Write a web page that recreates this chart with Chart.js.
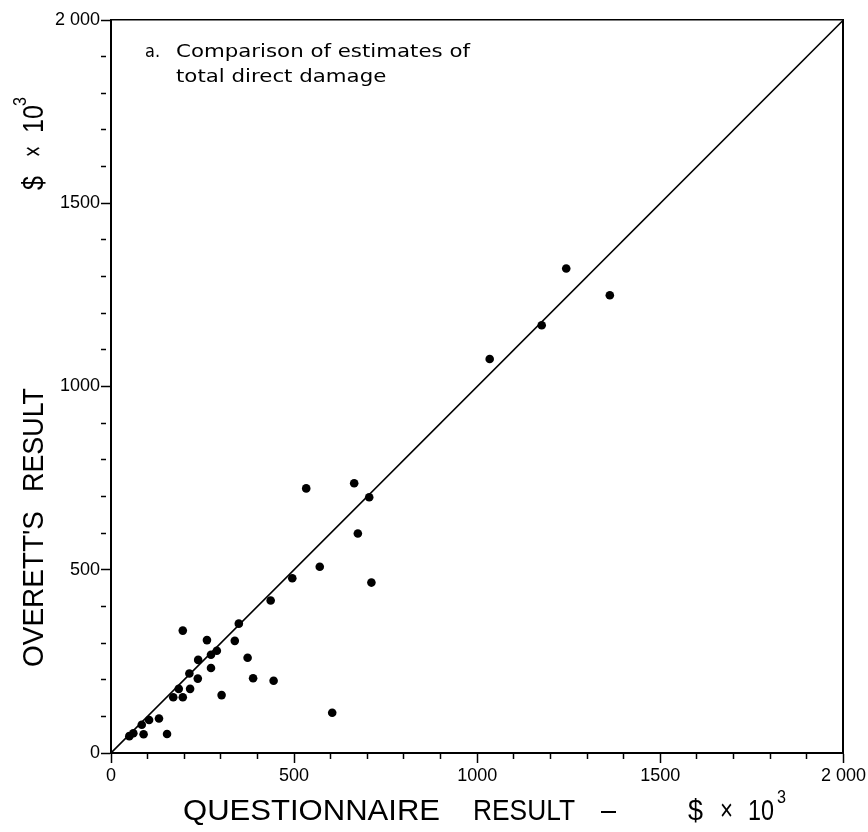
<html>
  <head>
    <script src="https://cdn.jsdelivr.net/npm/chart.js@4"></script>
    <style>
      body{ margin: 0; background: #fff; }
    </style>
  </head>
  <body>
    <canvas id="chart" width="868" height="832"></canvas>
    <script>
      // questionnaire result (x) and Overett's result (y), $ x 10^3
      var questionnaire = [50, 61, 84, 89, 104, 131, 153, 170, 185, 196, 196, 216, 214, 237, 238, 262, 273, 273, 289, 302,
                           338, 349, 373, 388, 444, 436, 495, 570, 604, 533, 664, 705, 674, 711, 1034, 1176, 1243, 1362];
      var overett = [46, 54, 77, 51, 90, 94, 52, 152, 175, 152, 334, 175, 217, 203, 254, 308, 232, 268, 279, 158,
                     306, 353, 260, 204, 197, 416, 477, 508, 110, 722, 736, 698, 599, 465, 1075, 1167, 1322, 1249];
      // line of equality
      var lineX = [0, 2000];
      var lineY = [0, 2000];
      var tickValues = [0, 500, 1000, 1500, 2000];
      var tickLabels = ['0', '500', '1000', '1500', '2 000'];

      function tickText(v){
        var i = tickValues.indexOf(v);
        return i < 0 ? '' : tickLabels[i];
      }
      function minorDash(c){
        return (c.tick && c.tick.value % 500 === 0) ? [] : [5, 20];
      }

      var tickFont = {family: "'Liberation Sans', Arial, sans-serif", size: 18};
      var titleFont = "30px 'Liberation Sans', Arial, sans-serif";
      var supFont = "18px 'Liberation Sans', Arial, sans-serif";
      var noteFont = "18px 'DejaVu Sans', sans-serif";

      function drawText(ctx, text, x, y, font, width, angle){
        ctx.save();
        ctx.font = font;
        var w = ctx.measureText(text).width;
        ctx.translate(x, y);
        if (angle) ctx.rotate(angle);
        ctx.scale(width / w, 1);
        ctx.textAlign = 'left';
        ctx.textBaseline = 'alphabetic';
        ctx.fillStyle = '#000';
        ctx.fillText(text, 0, 0);
        ctx.restore();
        return width / w;
      }

      var titles = {
        id: 'titles',
        afterDraw: function(chart){
          var ctx = chart.ctx;
          // x axis title
          drawText(ctx, 'QUESTIONNAIRE', 183, 820, titleFont, 257);
          drawText(ctx, 'RESULT', 473, 820, titleFont, 102);
          drawText(ctx, '\u2013', 601, 820, titleFont, 15);
          drawText(ctx, '$', 688, 820, titleFont, 15);
          drawText(ctx, '\u00d7', 720, 820, titleFont, 13);
          drawText(ctx, '10', 748, 820, titleFont, 26);
          drawText(ctx, '3', 777, 803, supFont, 9);
          // y axis title, rotated
          var up = -Math.PI / 2;
          drawText(ctx, "OVERETT'S", 43, 667, titleFont, 156, up);
          drawText(ctx, 'RESULT', 43, 492, titleFont, 104, up);
          drawText(ctx, '$', 43, 190, titleFont, 14, up);
          drawText(ctx, '\u00d7', 43, 157, titleFont, 11, up);
          drawText(ctx, '10', 43, 133, titleFont, 28, up);
          drawText(ctx, '3', 26, 106, supFont, 9, up);
          // note
          drawText(ctx, 'a.', 145, 57, noteFont, 15);
          ctx.save();
          ctx.font = noteFont;
          var sx = 294 / ctx.measureText('Comparison of estimates of').width;
          ctx.restore();
          drawText(ctx, 'Comparison of estimates of', 176, 57, noteFont, 294);
          ctx.save();
          ctx.font = noteFont;
          var w2 = ctx.measureText('total direct damage').width * sx;
          ctx.restore();
          drawText(ctx, 'total direct damage', 176, 82, noteFont, w2);
        }
      };

      var points = questionnaire.map(function(x, i){ return {x: x, y: overett[i]}; });
      var line = lineX.map(function(x, i){ return {x: x, y: lineY[i]}; });

      var chartConfig = {
        type: 'scatter',
        data: {
          datasets: [
            {data: points, backgroundColor: '#000', borderWidth: 0, pointRadius: 4.3, pointHoverRadius: 4.3},
            {data: line, showLine: true, borderColor: '#000', borderWidth: 1.6, pointRadius: 0, fill: false}
          ]
        },
        options: {
          responsive: false,
          animation: false,
          layout: {padding: {top: 20, right: 23, bottom: 0, left: 0}},
          plugins: {
            legend: {display: false},
            tooltip: {enabled: false}
          },
          scales: {
            x: {
              type: 'linear', position: 'bottom', min: 0, max: 2000,
              afterFit: function(s){ s.height = 79; },
              ticks: {stepSize: 100, autoSkip: false, maxRotation: 0, callback: tickText, color: '#000', font: tickFont, padding: 2},
              grid: {drawOnChartArea: false, drawTicks: true, tickLength: 10, tickWidth: 1.5, tickColor: '#000', tickBorderDash: minorDash},
              border: {display: true, color: '#000', width: 2}
            },
            y: {
              type: 'linear', position: 'left', min: 0, max: 2000,
              afterFit: function(s){ s.width = 111; },
              ticks: {stepSize: 100, autoSkip: false, callback: tickText, color: '#000', font: tickFont, padding: 1},
              grid: {drawOnChartArea: false, drawTicks: true, tickLength: 10, tickWidth: 1.5, tickColor: '#000', tickBorderDash: minorDash},
              border: {display: true, color: '#000', width: 2}
            },
            x2: {
              type: 'linear', position: 'top', min: 0, max: 2000, display: true,
              afterFit: function(s){ s.height = 0; },
              ticks: {display: false},
              grid: {drawOnChartArea: false, drawTicks: false},
              border: {display: true, color: '#000', width: 1.5}
            },
            y2: {
              type: 'linear', position: 'right', min: 0, max: 2000, display: true,
              afterFit: function(s){ s.width = 0; },
              ticks: {display: false},
              grid: {drawOnChartArea: false, drawTicks: false},
              border: {display: true, color: '#000', width: 2}
            }
          }
        },
        plugins: [titles]
      };

      var graph = new Chart(document.getElementById('chart'), chartConfig);
    </script>
  </body>
</html>
